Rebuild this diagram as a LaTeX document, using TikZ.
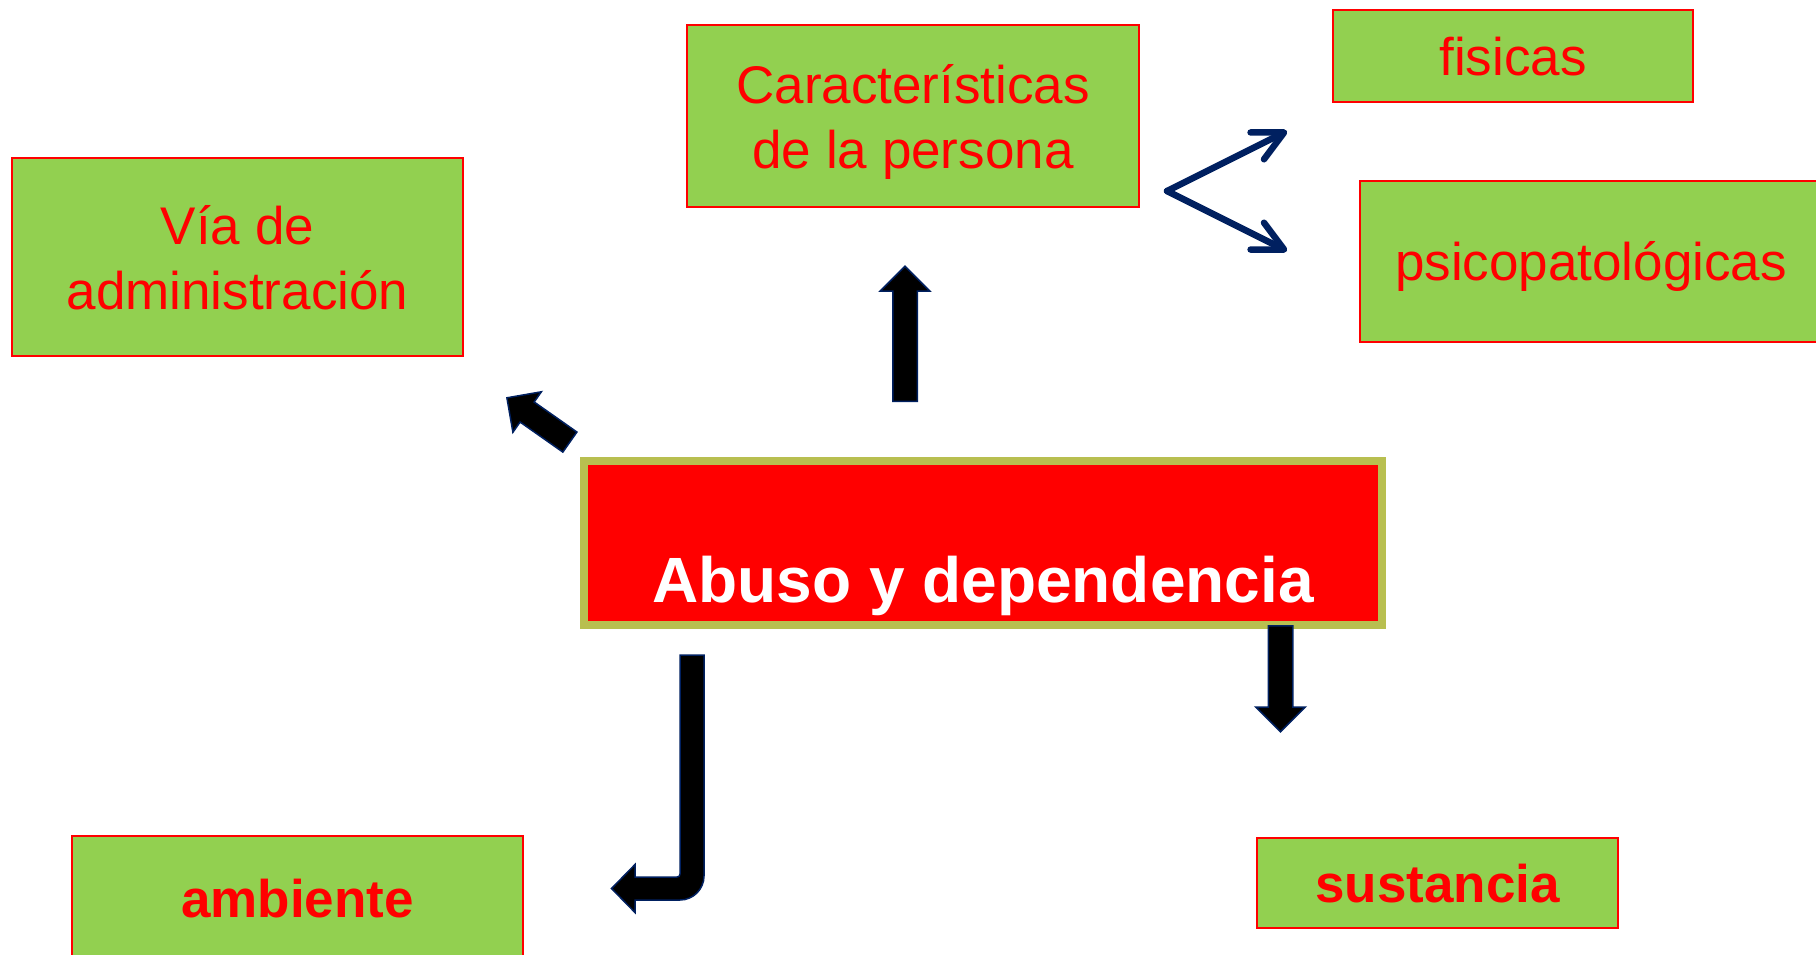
\documentclass[tikz,border=0pt]{standalone}
\usepackage{fontspec}
\setmainfont{Liberation Sans}
\usetikzlibrary{shapes.arrows,arrows.meta}

\definecolor{verde}{HTML}{92D050}
\definecolor{rojo}{HTML}{FF0000}
\definecolor{oliva}{HTML}{B8BF50}
\definecolor{marino}{HTML}{002060}

\tikzset{
  caja/.style={draw=rojo, fill=verde, line width=2.5pt, text=rojo, align=center, inner sep=0pt,
    text height=38pt, text depth=0pt, font=\fontsize{53}{64.5}\selectfont},
  cajanegrita/.style={caja, font=\fontsize{53}{64.5}\selectfont\bfseries},
  relleno/.style={draw=marino, fill=black, line width=1.5pt},
  flechabloque/.style={relleno, single arrow, anchor=tail, inner xsep=0pt, inner ysep=11.5pt,
    single arrow head extend=12.5pt, single arrow tip angle=90},
  flechalinea/.style={draw=marino, line width=6.5pt, line cap=round,
    -{Straight Barb[length=30pt,width=30pt,round]}}
}

\begin{document}
\begin{tikzpicture}[x=1pt, y=-1pt]
    \useasboundingbox (0,0) rectangle (1816,954);
    \clip (0,0) rectangle (1816,954);

    \node[caja, minimum width=451pt, minimum height=198pt, text height=104pt] (via) at (237.5,257) {Vía de\\administración};
    \node[caja, minimum width=452pt, minimum height=182pt, text height=104pt] (carac) at (913,116) {Características\\de la persona};
    \node[caja, minimum width=360pt, minimum height=92pt] (fis) at (1513,56) {fisicas};
    \node[caja, minimum width=462pt, minimum height=161pt] (psi) at (1591,261.5) {psicopatológicas};
    \node[cajanegrita, minimum width=451pt, minimum height=124pt] (amb) at (297.5,898) {ambiente};
    \node[cajanegrita, minimum width=361pt, minimum height=90pt] (sus) at (1437.5,883) {sustancia};

    \node[draw=oliva, fill=rojo, line width=8pt, text=white, inner sep=0pt,
      minimum width=798pt, minimum height=164pt, text height=130pt, text depth=12pt,
      font=\fontsize{64}{74}\selectfont\bfseries] (abuso) at (983,543) {Abuso y dependencia};

    \node[flechabloque, minimum height=135pt, rotate=90] (aCarac) at (905,402) {};
    \node[flechabloque, minimum height=77pt, rotate=144.9] (aVia) at (570.5,442.5) {};
    \node[flechabloque, minimum height=106pt, rotate=-90] (aSus) at (1280.5,625) {};
    \draw[relleno] (680,655) -- (704,655) -- (704,876) .. controls (704,889.2) and (693.2,900) .. (680,900)
      -- (635,900) -- (635,912.5) -- (611.5,888.5) -- (635,864.5) -- (635,877) -- (677,877)
      .. controls (679,877) and (680,876) .. (680,874) -- cycle;

    \coordinate (bif) at (1167,191);
    \coordinate (haciaFis) at (1287,131);
    \coordinate (haciaPsi) at (1287,251);
    \draw[flechalinea] (bif) -- (haciaFis);
    \draw[flechalinea] (bif) -- (haciaPsi);
\end{tikzpicture}
\end{document}
